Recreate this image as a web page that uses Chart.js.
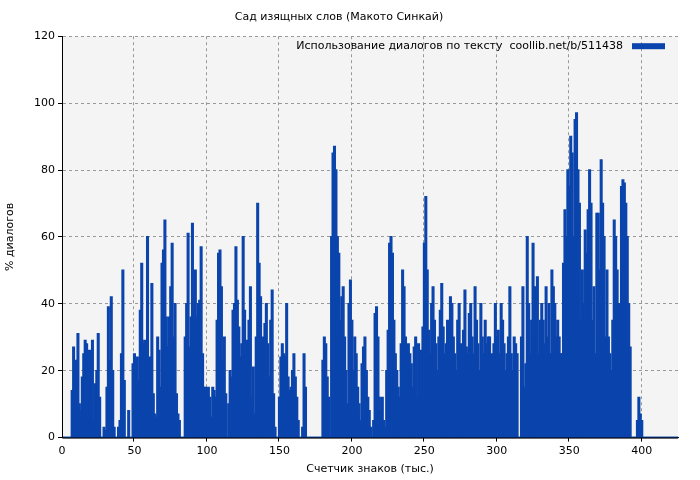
<!DOCTYPE html>
<html>
<head>
<meta charset="utf-8">
<script src="https://cdn.jsdelivr.net/npm/chart.js@4"></script>
<style>
  body { margin: 0; background: #fff; }
  #wrap { width: 700px; height: 480px; }
</style>
</head>
<body>
<div id="wrap"><canvas id="chart"></canvas></div>
<script>
// ---------- Data ----------

const titleText = 'Сад изящных слов (Макото Синкай)';
const legendText = 'Использование диалогов по тексту  coollib.net/b/511438';
const xTicks = [0, 50, 100, 150, 200, 250, 300, 350, 400];
const yTicks = [0, 20, 40, 60, 80, 100, 120];

// dialogue share per thousand characters, from x = 0
const dialogShare = [
    0, 0, 0, 0, 0, 0, 0,
    14, 27, 20, 23, 31, 10,
    8, 18, 25, 29, 28,
    12, 26, 17, 29, 5,
    16, 20, 31, 12, 0,
    0, 3, 2, 15, 39,
    23, 42, 20, 3, 0,
    0, 3, 5, 25, 50,
    17, 0, 0, 8, 0,
    0, 22, 25, 20, 24,
    17, 38, 52, 28, 29,
    27, 60, 23, 24, 46,
    13, 7, 6, 30, 26,
    15, 52, 56, 65, 36,
    27, 36, 45, 58, 30,
    40, 13, 7, 5, 0,
    0, 0, 30, 40, 61,
    27, 36, 64, 37, 50,
    36, 40, 41, 57, 25,
    15, 15, 14, 15, 12,
    6, 15, 14, 12, 35,
    55, 56, 45, 23, 30,
    13, 0, 10, 20, 18,
    38, 40, 57, 41, 33,
    24, 28, 60, 38, 25,
    29, 35, 45, 12, 21,
    7, 30, 70, 52, 42,
    12, 30, 34, 40, 28,
    18, 35, 44, 13, 3,
    0, 0, 12, 24, 28,
    25, 24, 40, 18, 14,
    15, 20, 25, 18, 12,
    5, 0, 0, 3, 25,
    15, 0, 0, 0, 0, 0, 0, 0,
    0, 0, 0, 0, 23,
    30, 28, 18, 12, 0,
    60, 85, 87, 80, 60, 55, 35,
    42, 45, 30, 20, 10,
    40, 47, 35, 20, 30, 25, 15, 10, 5, 22, 27, 30, 20, 12, 8, 3,
    0, 5, 37, 39, 30, 12, 8, 12, 5, 3,
    20, 32, 58, 60, 55, 35, 25, 20, 15, 12, 28, 50, 45, 30, 20,
    28, 25, 22, 15, 27, 30, 12, 28, 25, 26, 33, 58, 72, 50, 32, 25,
    40, 45, 35, 28, 20, 30, 38, 46, 33, 25,
    28, 35, 30, 42, 40, 30, 25, 20, 35, 40, 28, 22, 32, 44, 27,
    25, 37, 40, 30, 25, 45, 35, 28, 20, 40, 30, 25, 35, 28, 30, 30, 20, 25, 28, 40,
    30, 32, 25, 40, 35, 28, 20, 25, 30, 45, 25, 20, 30, 28, 25, 0,
    0, 30, 45, 15, 22, 60, 40, 25, 35, 58, 45, 30, 48, 25, 35,
    40, 35, 28, 45, 30, 40, 25, 50, 45, 40, 30, 35, 30, 25, 25,
    52, 68, 60, 80, 75, 90, 85, 60, 95, 97,
    80, 70, 35, 50, 40, 62, 55, 68, 80, 70,
    35, 45, 25, 67, 67, 50, 83, 70, 60, 30,
    50, 30, 25, 20, 35, 65, 60, 50, 40, 30,
    75, 77, 76, 70, 60, 40, 27,
    0, 0, 0, 0,
    5, 12, 7, 5
];

const xMax = 425;
const labels = [];
const values = [];
for (let i = 0; i <= xMax; i++) {
    labels.push(i);
    values.push(i < dialogShare.length ? dialogShare[i] : 0);
}

// ---------- Plugins ----------

const plotBackground = {
    id: 'plotBackground',
    beforeDraw(chart) {
        const { ctx, chartArea: a } = chart;
        ctx.save();
        ctx.fillStyle = '#f4f4f4';
        ctx.fillRect(a.left, a.top, a.right - a.left, a.bottom - a.top);
        ctx.restore();
    },
    afterDraw(chart) {
        const { ctx, chartArea: a } = chart;
        ctx.save();
        ctx.strokeStyle = '#000';
        ctx.lineWidth = 1;
        ctx.setLineDash([]);
        ctx.beginPath();
        ctx.moveTo(a.left + 0.5, a.top);
        ctx.lineTo(a.left + 0.5, a.bottom + 0.5);
        ctx.lineTo(a.right, a.bottom + 0.5);
        ctx.stroke();
        // legend, text then swatch
        ctx.font = '11px "DejaVu Sans"';
        ctx.fillStyle = '#000';
        ctx.textAlign = 'right';
        ctx.textBaseline = 'middle';
        ctx.fillText(legendText, a.right - 55, a.top + 10);
        ctx.fillStyle = '#0a44ac';
        ctx.fillRect(a.right - 46, a.top + 7, 33, 6);
        ctx.restore();
    }
};

// ---------- Chart ----------

new Chart(document.getElementById('chart'), {
    type: 'bar',
    data: {
        labels,
        datasets: [{
            data: values,
            backgroundColor: '#0a44ac',
            barPercentage: 1,
            categoryPercentage: 1,
            inflateAmount: 0.8
        }]
    },
    options: {
        responsive: true,
        maintainAspectRatio: false,
        animation: false,
        layout: { padding: { top: 11, right: 22, left: 0, bottom: 0 } },
        plugins: {
            legend: { display: false },
            tooltip: { enabled: false },
            title: {
                display: true,
                text: titleText,
                color: '#000',
                font: { family: 'DejaVu Sans', size: 11, weight: 'normal' },
                padding: { top: 0, bottom: 12 }
            }
        },
        scales: {
            x: {
                offset: false,
                grid: {
                    color: '#999',
                    drawTicks: true,
                    tickLength: 4,
                    tickColor: '#000',
                    lineWidth: ctx => (ctx.tick && xTicks.includes(Number(labels[ctx.index])) ? 1 : 0)
                },
                border: { display: true, dash: [3, 3], color: '#000' },
                ticks: {
                    autoSkip: false,
                    maxRotation: 0,
                    color: '#000',
                    font: { family: 'DejaVu Sans', size: 11 },
                    callback: (v, i) => (xTicks.includes(labels[i]) ? String(labels[i]) : '')
                },
                title: {
                    display: true,
                    text: 'Счетчик знаков (тыс.)',
                    color: '#000',
                    font: { family: 'DejaVu Sans', size: 11 },
                    padding: { top: 2 }
                }
            },
            y: {
                min: 0,
                max: 120,
                afterFit: s => { s.width = 62; },
                grid: { color: '#999', tickLength: 4, tickColor: '#000' },
                border: { display: true, dash: [3, 3], color: '#000' },
                ticks: {
                    stepSize: 20,
                    color: '#000',
                    font: { family: 'DejaVu Sans', size: 11 }
                },
                title: {
                    display: true,
                    text: '% диалогов',
                    color: '#000',
                    font: { family: 'DejaVu Sans', size: 11 }
                }
            }
        }
    },
    plugins: [plotBackground]
});
</script>
</body>
</html>
